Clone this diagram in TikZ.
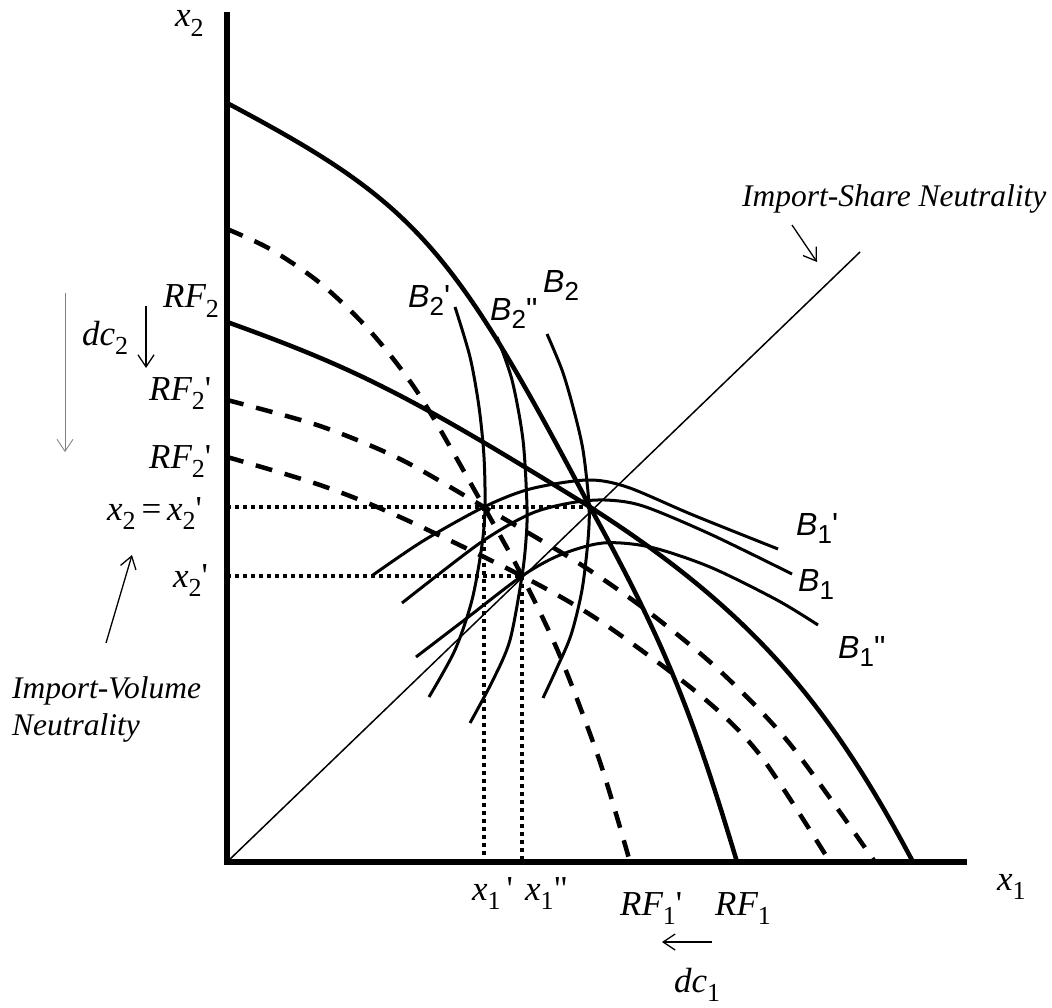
\documentclass[tikz,border=0pt]{standalone}
\usepackage{fontspec}
\setmainfont{Liberation Serif}
\newfontfamily\sansB{Liberation Sans}
\usetikzlibrary{arrows.meta}
\newcommand\sbs[1]{\raisebox{-0.27em}{\fontsize{26}{26}\selectfont\upshape #1}}
\newcommand\bsb[1]{\raisebox{-0.25em}{\fontsize{26}{26}\selectfont\upshape #1}}
\newcommand\pr{{\upshape\textquotesingle}}
\newcommand\dpr{{\upshape\textquotedbl}}
\begin{document}
\begin{tikzpicture}[x=1pt,y=-1pt,
  lbl/.style={anchor=base west, inner sep=0pt, font=\fontsize{35}{40}\selectfont\itshape},
  blbl/.style={anchor=base west, inner sep=0pt, font=\sansB\fontsize{32}{38}\selectfont\itshape},
  note/.style={anchor=base west, inner sep=0pt, font=\fontsize{31.5}{36}\selectfont\itshape},
  axisline/.style={line width=5.5pt},
  rf/.style={line width=4.5pt},
  rfd/.style={line width=4.5pt, dash pattern=on 17pt off 13pt},
  bc/.style={line width=3pt},
  dotl/.style={line width=4pt, dash pattern=on 4pt off 4pt},
  arr/.style={-{Straight Barb[length=12pt,width=16pt]}, line width=1.3pt},
  crv/.style={smooth, tension=0.5}]
\useasboundingbox (0,0) rectangle (1052,1008);

% axes
\coordinate (O) at (227,862);
\coordinate (ytop) at (227,12);
\coordinate (xend) at (967,862);
\draw[axisline] (ytop) -- (O) -- (xend);

% 45-degree line
\coordinate (diagend) at (860,252);
\draw[line width=1.5pt] (O) -- (diagend);

% key points
\coordinate (E) at (590,507);
\coordinate (P1) at (484,507);
\coordinate (P2) at (522,576);

% dotted guides
\draw[dotl] (227,507) -- (E);
\draw[dotl] (227,576) -- (P2);
\draw[dotl] (P1) -- (484,862);
\draw[dotl] (P2) -- (522,862);

% RF1 (solid)
\draw[rf] (227,103) .. controls (414,202) and (451,243) .. (E)
                    .. controls (665,643) and (692,712) .. (737,862);
% RF2 (solid)
\draw[rf] (227,322) .. controls (358,369) and (412,397) .. (E)
                    .. controls (748,608) and (828,701) .. (913,862);
% RF1' (dashed)
\draw[rfd] plot[crv] coordinates {(227,229) (270,249) (320,283) (370,331) (420,396) (484,507) (522,576) (560,656) (600,762) (630,862)};
% RF2' upper (dashed)
\draw[rfd] plot[crv] coordinates {(227,400) (320,426) (400,459) (484,507) (580,564) (650,613) (720,671) (790,744) (875,862)};
% RF2' lower (dashed)
\draw[rfd] plot[crv] coordinates {(227,457) (320,485) (400,517) (522,576) (600,621) (700,695) (760,755) (830,862)};

% B1 curves
\draw[bc] plot[crv] coordinates {(373,575) (423,541) (484,507) (530,489) (587,480) (627,487) (693,515) (778,549)};
\draw[bc] plot[crv] coordinates {(402,603) (480,543) (530,514) (570,503) (605,500) (643,506) (710,534) (792,574)};
\draw[bc] plot[crv] coordinates {(416,657) (467,618) (522,576) (560,555) (603,543) (650,547) (710,567) (777,600) (818,625)};
% B2 curves
\draw[bc] plot[crv] coordinates {(455,307) (470,357) (479,407) (484,457) (485,507) (482,545) (472,600) (455,650) (429,697)};
\draw[bc] plot[crv] coordinates {(497,337) (512,380) (523,440) (527,507) (526,540) (522,576) (510,640) (493,680) (470,723)};
\draw[bc] plot[crv] coordinates {(547,334) (562,370) (573,407) (583,450) (589,505) (588,540) (582,590) (571,635) (556,670) (543,698)};

% axis labels
\node[lbl] (lx2) at (175,27) {x\sbs{2}};
\node[lbl] (lx1) at (997,890) {x\sbs{1}};

% left labels
\node[lbl] (lrf2) at (163,308) {RF\sbs{2}};
\node[lbl] (lrf2a) at (149,400) {RF\sbs{2}\pr};
\node[lbl] (lrf2b) at (149,468) {RF\sbs{2}\pr};
\node[lbl] (lx2eq) at (107,520) {x\sbs{2}\,{\upshape =}\,x\sbs{2}\pr};
\node[lbl] (lx2p) at (173,587) {x\sbs{2}\pr};
\node[lbl] (ldc2) at (82,345) {dc\sbs{2}};

% B labels
\node[blbl] (lb2a) at (408,308) {B\bsb{2}\pr};
\node[blbl] (lb2b) at (490,320) {B\bsb{2}\dpr};
\node[blbl] (lb2) at (543,293) {B\bsb{2}};
\node[blbl] (lb1a) at (796,535) {B\bsb{1}\pr};
\node[blbl] (lb1) at (798,591) {B\bsb{1}};
\node[blbl] (lb1b) at (838,658) {B\bsb{1}\dpr};

% bottom labels
\node[lbl] (lx1a) at (472,900) {x\sbs{1}\,\pr};
\node[lbl] (lx1b) at (525,900) {x\sbs{1}\dpr};
\node[lbl] (lrf1a) at (620,915) {RF\sbs{1}\pr};
\node[lbl] (lrf1) at (715,915) {RF\sbs{1}};
\node[lbl] (ldc1) at (674,992) {dc\sbs{1}};

% notes
\node[note] (nshare) at (742,207) {Import-Share Neutrality};
\node[note] (nvol1) at (12,698) {Import-Volume};
\node[note] (nvol2) at (12,735) {Neutrality};

% arrows
\coordinate (a1s) at (792,225); \coordinate (a1e) at (817,262);
\draw[arr] (a1s) -- (a1e);
\coordinate (a2s) at (106,643); \coordinate (a2e) at (132,555);
\draw[arr] (a2s) -- (a2e);
\coordinate (a3s) at (146,306); \coordinate (a3e) at (146,368);
\draw[arr] (a3s) -- (a3e);
\coordinate (a4s) at (65,293); \coordinate (a4e) at (65,452);
\draw[arr, line width=0.8pt, gray] (a4s) -- (a4e);
\coordinate (a5s) at (712,942); \coordinate (a5e) at (662,942);
\draw[arr] (a5s) -- (a5e);
\end{tikzpicture}
\end{document}
